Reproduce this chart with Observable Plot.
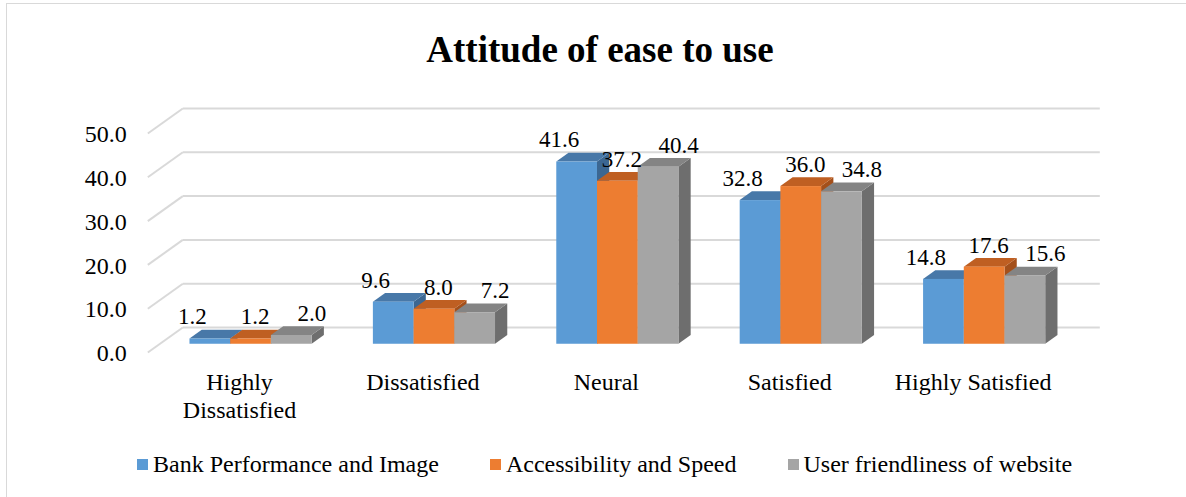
<!DOCTYPE html>
<html>
<head>
<meta charset="utf-8">
<script src="https://cdn.jsdelivr.net/npm/d3@7"></script>
<script src="https://cdn.jsdelivr.net/npm/@observablehq/plot@0.6"></script>
<style>
  html, body { margin: 0; padding: 0; width: 1186px; height: 497px; overflow: hidden; background: #fff; }
  body { position: relative; font-family: "Liberation Serif", "Times New Roman", serif; color: #000; }
  #frame { position: absolute; left: 6px; top: 3px; width: 1200px; height: 520px; border: 1px solid #d9d9d9; box-sizing: border-box; }
  #title { position: absolute; left: 0; top: 28px; width: 1200px; text-align: center; font-family: "Liberation Serif", serif; font-weight: bold; font-size: 37px; line-height: 44px; }
  #chart { position: absolute; left: 0; top: 90px; }
  #legend { position: absolute; left: 137px; top: 452px; font-family: "Liberation Serif", serif; font-size: 24px; line-height: 24px; white-space: nowrap; }
  #legend .item { display: inline-block; margin-right: 51px; }
  #legend .sw { display: inline-block; width: 11px; height: 11px; margin-right: 5px; position: relative; top: -2px; }
</style>
</head>
<body>
<div id="frame"></div>
<div id="title">Attitude of ease to use</div>
<div id="chart"></div>
<div id="legend"></div>
<script>
// ---- data ----
const categories = ["Highly\nDissatisfied", "Dissatisfied", "Neural", "Satisfied", "Highly Satisfied"];
const seriesNames = ["Bank Performance and Image", "Accessibility and Speed", "User friendliness of website"];
const bankPerformance = [1.2, 9.6, 41.6, 32.8, 14.8];
const accessibility = [1.2, 8.0, 37.2, 36.0, 17.6];
const userFriendliness = [2.0, 7.2, 40.4, 34.8, 15.6];
const yTicks = [0, 10, 20, 30, 40, 50];

// ---- styles ----
const FONT = "'Liberation Serif', 'Times New Roman', serif";
const frontColors = ["#5B9BD5", "#ED7D31", "#A5A5A5"];
const topColors = ["#4878A8", "#BF5F22", "#848484"];
const sideColors = ["#3C6792", "#A4501B", "#6E6E6E"];
const labelShift = [-18, 4, 20];   // px horizontal shift of value labels per series

// ---- 3D layout constants (in scale units) ----
const DX = 35 / 183.4;   // full floor depth, x units
const DY = 25 / 4.38;    // full floor depth, value units
const BAR_W = 0.222;
const Z0 = 0.33, Z1 = 0.68;  // bar front/back depth fractions
const X_MIN = -0.5, X_MAX = 4.5;

const values = [bankPerformance, accessibility, userFriendliness];
const bars = [];
categories.forEach((c, i) => {
  values.forEach((arr, j) => {
    const xl = i - 1.5 * BAR_W + j * BAR_W;
    bars.push({id: i * 3 + j, cat: i, s: j, v: arr[i], xl, xr: xl + BAR_W});
  });
});

const fronts = bars.map(b => ({...b,
  x1: b.xl + Z0 * DX, x2: b.xr + Z0 * DX, y1: Z0 * DY, y2: b.v + Z0 * DY, fill: frontColors[b.s]}));
const tops = bars.flatMap(b => [
  {id: b.id, y: b.v + Z0 * DY, x1: b.xl + Z0 * DX, x2: b.xr + Z0 * DX, fill: topColors[b.s]},
  {id: b.id, y: b.v + Z1 * DY, x1: b.xl + Z1 * DX, x2: b.xr + Z1 * DX, fill: topColors[b.s]}
]);
const sides = bars.flatMap(b => [
  {id: b.id, x: b.xr + Z0 * DX, y1: Z0 * DY, y2: b.v + Z0 * DY, fill: sideColors[b.s]},
  {id: b.id, x: b.xr + Z1 * DX, y1: Z1 * DY, y2: b.v + Z1 * DY, fill: sideColors[b.s]}
]);

const grid = "#d9d9d9";
const fmt = d3.format(".1f");

const labelMarks = [0, 1, 2].map(j => Plot.text(fronts.filter(d => d.s === j), {
  x: d => (d.x1 + d.x2) / 2, y: "y2", text: d => fmt(d.v),
  dx: labelShift[j], dy: -22, fontSize: 23, fontFamily: FONT, fill: "#000"
}));

const plot = Plot.plot({
  width: 1186, height: 340,
  marginLeft: 147.3, marginRight: 121.7, marginTop: 43, marginBottom: 78,
  x: {domain: [X_MIN, X_MAX], axis: null},
  y: {domain: [0, 50], axis: null},
  color: {type: "identity"},
  style: {fontFamily: FONT, fontSize: "24px", background: "transparent", color: "#000"},
  marks: [
    // back wall gridlines
    Plot.link(yTicks, {x1: X_MIN + DX, y1: d => d + DY, x2: X_MAX + DX, y2: d => d + DY, stroke: grid, strokeWidth: 2}),
    // left-side depth stubs
    Plot.link(yTicks, {x1: X_MIN, y1: d => d, x2: X_MIN + DX, y2: d => d + DY, stroke: grid, strokeWidth: 2}),
    // y tick labels
    Plot.text(yTicks, {x: X_MIN, y: d => d, text: d => fmt(d), textAnchor: "end", dx: -21, dy: 1, fontSize: 24, fontFamily: FONT, fill: "#000"}),
    // bar side faces, top faces, front faces
    Plot.areaY(sides, {x: "x", y1: "y1", y2: "y2", z: "id", fill: "fill"}),
    Plot.areaX(tops, {y: "y", x1: "x1", x2: "x2", z: "id", fill: "fill"}),
    Plot.rect(fronts, {x1: "x1", x2: "x2", y1: "y1", y2: "y2", fill: "fill"}),
    // value labels
    ...labelMarks,
    // category labels
    Plot.text(categories, {x: (d, i) => i, y: 0, text: d => d, lineAnchor: "top", dy: 18, lineHeight: 1.15, fontSize: 24, fontFamily: FONT, fill: "#000"})
  ]
});
document.getElementById("chart").appendChild(plot);

// legend
const legend = document.getElementById("legend");
seriesNames.forEach((name, j) => {
  const item = document.createElement("span");
  item.className = "item";
  const sw = document.createElement("span");
  sw.className = "sw";
  sw.style.background = frontColors[j];
  item.appendChild(sw);
  item.appendChild(document.createTextNode(name));
  legend.appendChild(item);
});
</script>
</body>
</html>
